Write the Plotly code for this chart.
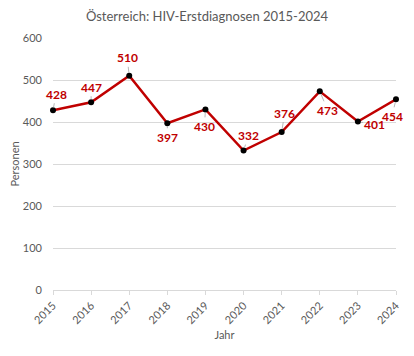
import plotly.graph_objects as go

years = [2015, 2016, 2017, 2018, 2019, 2020, 2021, 2022, 2023, 2024]
values = [428, 447, 510, 397, 430, 332, 376, 473, 401, 454]
year_labels = [str(y) for y in years]

# label offsets (pixels) relative to point
label_dx = [3, 0, -2, 0, -1, 5, 3, 8, 17, -4]
label_dy = [-16, -15, -18, 14, 17, -15, -19, 19, 3, 17]

FONT = "Lato, Open Sans, sans-serif"
GRAY = "#595959"

fig = go.Figure()
fig.add_trace(go.Scatter(
    x=years, y=values, mode="lines+markers",
    line=dict(color="#C00000", width=2.5),
    marker=dict(color="black", size=6),
    cliponaxis=False, hoverinfo="x+y", showlegend=False,
))

for x, v, dx, dy in zip(years, values, label_dx, label_dy):
    fig.add_annotation(
        x=x, y=v, text=f"<b>{v}</b>", ax=dx, ay=dy,
        showarrow=True, arrowhead=0, arrowwidth=0.8, arrowcolor="#A6A6A6",
        standoff=3, startstandoff=0,
        font=dict(family=FONT, size=12, color="#C00000"),
    )

# page has 8px body margin; figure sized to fit the 414x356 window
fig.update_layout(
    width=398, height=340,
    margin=dict(l=45, r=10, t=30, b=58, autoexpand=False),
    paper_bgcolor="white", plot_bgcolor="white",
    font=dict(family=FONT, color=GRAY, size=11),
    title=dict(text="Österreich: HIV-Erstdiagnosen 2015-2024", x=0.5, xanchor="center",
               y=0.974, yanchor="middle", font=dict(size=13, color=GRAY, family=FONT)),
    xaxis=dict(
        range=[2015, 2024], tickvals=years, ticktext=year_labels, tickangle=-45,
        showgrid=False, zeroline=False, showline=True, linecolor="#D9D9D9",
        ticks="outside", ticklen=4, tickcolor="#D9D9D9", automargin=False,
        title=dict(text="Jahr", font=dict(size=11, color=GRAY), standoff=6),
        tickfont=dict(size=11, color=GRAY),
    ),
    yaxis=dict(
        range=[0, 600], tickvals=[0, 100, 200, 300, 400, 500, 600],
        showgrid=True, gridcolor="#D9D9D9", gridwidth=1, zeroline=False,
        showline=False, ticks="", ticklabelstandoff=10, automargin=False,
        title=dict(text="Personen", font=dict(size=11, color=GRAY), standoff=6),
        tickfont=dict(size=11, color=GRAY),
    ),
)

fig.write_html("out.html")
